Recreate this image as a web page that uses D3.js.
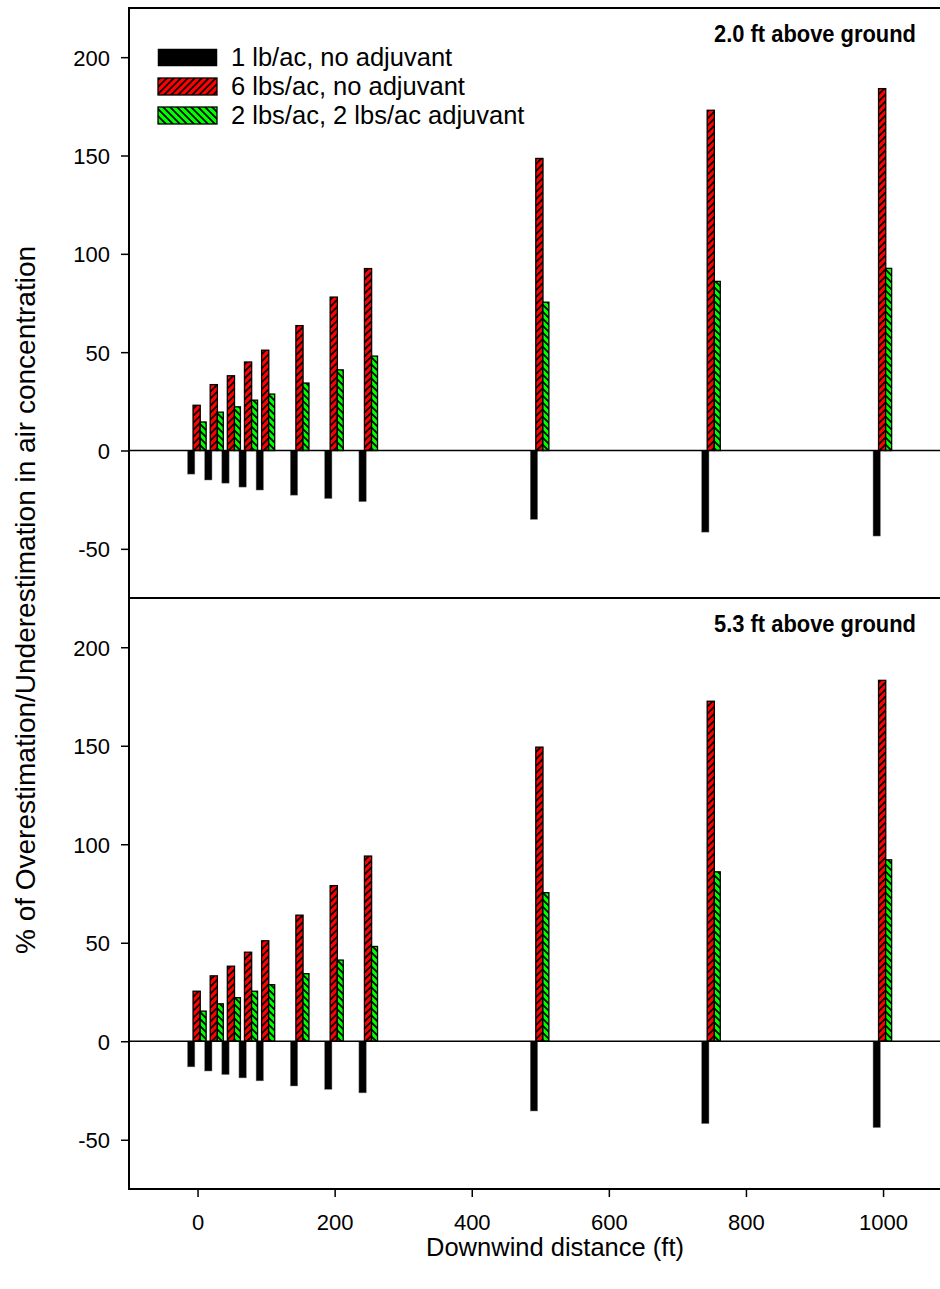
<!DOCTYPE html>
<html>
<head>
<meta charset="utf-8">
<script src="https://cdn.jsdelivr.net/npm/d3@7"></script>
<style>
  html, body { margin: 0; padding: 0; background: #fff; }
  svg { display: block; font-family: "Liberation Sans", Arial, sans-serif; }
</style>
</head>
<body>
<svg id="chart" width="940" height="1289"></svg>
<script>
// ---------------- data ----------------
const distances = [0, 25, 50, 75, 100, 150, 200, 250, 500, 750, 1000];
const seriesNames = ["1 lb/ac, no adjuvant", "6 lbs/ac, no adjuvant", "2 lbs/ac, 2 lbs/ac adjuvant"];
const panelTitles = ["2.0 ft above ground", "5.3 ft above ground"];

// 2.0 ft above ground
const top1lb  = [-12, -15, -16.6, -18.6, -20.1, -22.7, -24.4, -26, -35, -41.5, -43.5];
const top6lbs = [23, 33.5, 38, 45, 51, 63.5, 78, 92.5, 148.5, 173, 184];
const top2lbs = [14.5, 19.5, 22.2, 25.6, 28.7, 34.3, 41, 48, 75.4, 86, 92.6];

// 5.3 ft above ground
const bot1lb  = [-13, -15.1, -16.9, -18.6, -20.1, -22.7, -24.4, -26.2, -35.4, -41.8, -43.8];
const bot6lbs = [25.4, 33.2, 38.1, 45.2, 51, 64, 79, 94, 149.3, 172.6, 183.2];
const bot2lbs = [15.3, 19, 22.1, 25.4, 28.7, 34.3, 41.2, 48.1, 75.4, 86, 92.1];

const yTicks = [-50, 0, 50, 100, 150, 200];
const xTicks = [0, 200, 400, 600, 800, 1000];
const yDomain = [-75, 225];
const xDomain = [-100, 1100];

// ---------------- drawing ----------------
const svg = d3.select("#chart");
const left = 129, plotRight = 951.6;
const x = d3.scaleLinear().domain(xDomain).range([left, plotRight]);

const defs = svg.append("defs");
// red: forward-slash hatch
const pr = defs.append("pattern").attr("id", "hatchRed")
  .attr("patternUnits", "userSpaceOnUse").attr("width", 7).attr("height", 7);
pr.append("rect").attr("width", 7).attr("height", 7).attr("fill", "#ff0000");
pr.append("path").attr("d", "M-1,1 l2,-2 M0,7 l7,-7 M6,8 l2,-2")
  .attr("stroke", "#000").attr("stroke-width", 1.7);
// green: back-slash hatch
const pg = defs.append("pattern").attr("id", "hatchGreen")
  .attr("patternUnits", "userSpaceOnUse").attr("width", 7).attr("height", 7);
pg.append("rect").attr("width", 7).attr("height", 7).attr("fill", "#00ff00");
pg.append("path").attr("d", "M-1,6 l2,2 M0,0 l7,7 M6,-1 l2,2")
  .attr("stroke", "#000").attr("stroke-width", 1.7);

const seriesStyle = [
  { fill: "#000", stroke: "#777", sw: 0.5, dx: -10, w: 7.3 },
  { fill: "url(#hatchRed)", stroke: "#000", sw: 1.3, dx: -4.5, w: 7.2 },
  { fill: "url(#hatchGreen)", stroke: "#000", sw: 1.3, dx: 2.6, w: 6 }
];

const panels = [
  { title: panelTitles[0], range: [598, 8], series: [top1lb, top6lbs, top2lbs], bottomAxis: false },
  { title: panelTitles[1], range: [1189, 598], series: [bot1lb, bot6lbs, bot2lbs], bottomAxis: true }
];

panels.forEach(p => {
  const y = d3.scaleLinear().domain(yDomain).range(p.range);
  const g = svg.append("g");

  // bars
  p.series.forEach((vals, si) => {
    const st = seriesStyle[si];
    g.append("g").selectAll("rect")
      .data(distances.map((d, i) => ({ d, v: vals[i] })))
      .join("rect")
      .attr("x", e => x(e.d) + st.dx)
      .attr("width", st.w)
      .attr("y", e => y(Math.max(0, e.v)))
      .attr("height", e => Math.abs(y(e.v) - y(0)))
      .attr("fill", st.fill)
      .attr("stroke", st.stroke)
      .attr("stroke-width", st.sw);
  });

  // zero line
  g.append("line").attr("x1", left).attr("x2", 940)
    .attr("y1", y(0)).attr("y2", y(0))
    .attr("stroke", "#000").attr("stroke-width", 1.5);

  // y axis
  const ya = g.append("g").attr("transform", `translate(${left},0)`)
    .call(d3.axisLeft(y).tickValues(yTicks).tickFormat(d => String(d)).tickSize(8).tickPadding(11));
  ya.select(".domain").remove();
  ya.selectAll(".tick line").attr("stroke", "#000").attr("stroke-width", 1.5);
  ya.selectAll(".tick text").attr("font-size", 22).attr("fill", "#000")
    .attr("font-family", "'Liberation Sans', Arial, sans-serif").attr("dy", "0.36em");

  // top border of the panel
  g.append("line").attr("x1", left - 1).attr("x2", 940)
    .attr("y1", p.range[1]).attr("y2", p.range[1])
    .attr("stroke", "#000").attr("stroke-width", 2);

  // title
  g.append("text").attr("x", 916).attr("y", p.range[1] + 34)
    .attr("text-anchor", "end").attr("font-size", 24).attr("font-weight", "bold")
    .attr("textLength", 202).attr("lengthAdjust", "spacingAndGlyphs")
    .attr("fill", "#000").text(p.title);

  if (p.bottomAxis) {
    const xa = g.append("g").attr("transform", `translate(0,${p.range[0]})`)
      .call(d3.axisBottom(x).tickValues(xTicks).tickFormat(d => String(d)).tickSize(8).tickPadding(17));
    xa.select(".domain").remove();
    xa.selectAll(".tick line").attr("stroke", "#000").attr("stroke-width", 1.5);
    xa.selectAll(".tick text").attr("font-size", 22).attr("fill", "#000")
      .attr("font-family", "'Liberation Sans', Arial, sans-serif");
    g.append("line").attr("x1", left - 1).attr("x2", 940)
      .attr("y1", p.range[0]).attr("y2", p.range[0])
      .attr("stroke", "#000").attr("stroke-width", 2);
  }
});

// left spine
svg.append("line").attr("x1", left).attr("x2", left).attr("y1", 7).attr("y2", 1190)
  .attr("stroke", "#000").attr("stroke-width", 2);

// legend
const legend = svg.append("g");
seriesNames.forEach((name, i) => {
  const yy = 49 + i * 29;
  legend.append("rect").attr("x", 158).attr("y", yy).attr("width", 59).attr("height", 17)
    .attr("fill", seriesStyle[i].fill).attr("stroke", "#000")
    .attr("stroke-width", i === 0 ? 0.5 : 1.3);
  legend.append("text").attr("x", 231).attr("y", yy + 17)
    .attr("font-size", 25.5).attr("fill", "#000").text(name);
});

// axis titles
svg.append("text").attr("x", 555).attr("y", 1256).attr("text-anchor", "middle")
  .attr("font-size", 25.5).attr("fill", "#000").text("Downwind distance (ft)");
svg.append("text").attr("transform", "translate(35,600) rotate(-90)")
  .attr("text-anchor", "middle").attr("font-size", 28).attr("fill", "#000")
  .text("% of Overestimation/Underestimation in air concentration");
</script>
</body>
</html>
